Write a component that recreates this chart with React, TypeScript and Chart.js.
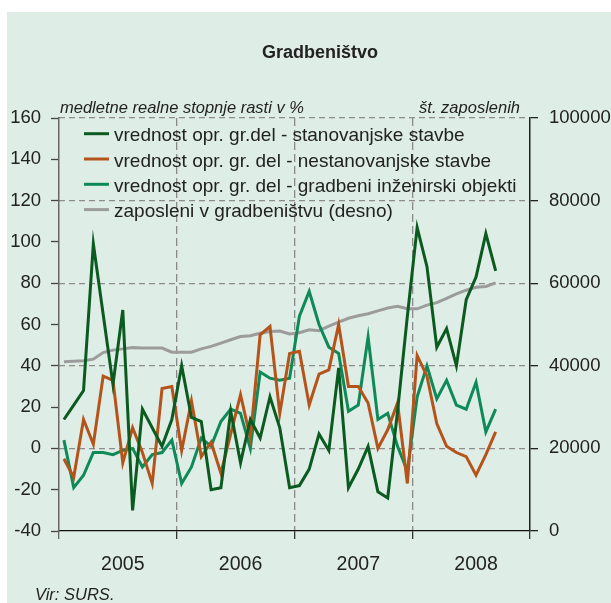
import React, { useEffect, useRef } from 'react';
import { Chart, registerables } from 'chart.js';

Chart.register(...registerables);

// ---- data (monthly, Jan 2005 – Sep 2008) ----
const years = ['2005', '2006', '2007', '2008'];

const residential = [
  14, 21, 28, 99, 65, 31, 67, -30, 19, 10, 1, 14,
  40, 15, 13, -20, -19, 18, -7, 14, 5, 25, 10, -19,
  -18, -10, 7, -1, 39, -19, -10, 1, -21, -24, 18, 64,
  107, 88, 49, 58, 40, 72, 83, 104, 86,
];

const nonResidential = [
  -5, -14, 14, 2, 35, 33, -7, 10, -2, -17, 29, 30,
  -1, 23, -4, 3, -12, 7, 26, 5, 55, 59, 17, 46,
  47, 21, 36, 38, 60, 30, 30, 22, 0, 9, 22, -17,
  45, 35, 12, 1, -2, -4, -13, -3, 8,
];

const civilEng = [
  4, -19, -13, -2, -2, -3, -1, 0, -9, -3, -2, 4,
  -17, -9, 5, 1, 13, 19, 17, 0, 37, 34, 33, 34,
  64, 76, 60, 49, 46, 18, 21, 54, 14, 17, 1, -11,
  25, 40, 24, 33, 21, 19, 32, 8, 19,
];

const employment = [
  41000, 41100, 41200, 41600, 43200, 43800, 44100, 44400, 44300, 44300, 44300, 43300,
  43300, 43300, 44100, 44700, 45500, 46300, 47100, 47300, 47900, 48300, 48400, 47700,
  48000, 48700, 48500, 49600, 50600, 51500, 52100, 52600, 53300, 54000, 54400, 53800,
  53800, 54700, 55300, 56300, 57400, 58300, 59000, 59200, 60100,
];

const seriesLabels = [
  'vrednost opr. gr.del - stanovanjske stavbe',
  'vrednost opr. gr. del - nestanovanjske stavbe',
  'vrednost opr. gr. del - gradbeni inženirski objekti',
  'zaposleni v gradbeništvu (desno)',
];
const seriesColors = ['#0b5a1f', '#b5541a', '#0e8a58', '#9c9c9c'];

const titleText = 'Gradbeništvo';
const leftAxisTitle = 'medletne realne stopnje rasti v %';
const rightAxisTitle = 'št. zaposlenih';
const sourceText = 'Vir: SURS.';

const SANS = "'Liberation Sans', Arial, sans-serif";

const toPoints = (arr: number[]) => arr.map((v, i) => ({ x: i + 0.5, y: v }));

const bgPlugin = {
  id: 'bg',
  beforeDraw(chart: any) {
    const ctx = chart.ctx;
    ctx.save();
    ctx.fillStyle = '#ffffff';
    ctx.fillRect(0, 0, chart.width, chart.height);
    ctx.fillStyle = '#deede6';
    ctx.fillRect(7, 12, chart.width - 7, chart.height - 12);
    ctx.restore();
  },
};

const decorPlugin = {
  id: 'decor',
  afterDraw(chart: any) {
    const ctx = chart.ctx;
    const area = chart.chartArea;
    ctx.save();
    // title
    ctx.fillStyle = '#222';
    ctx.font = `bold 18px ${SANS}`;
    ctx.textAlign = 'center';
    ctx.textBaseline = 'alphabetic';
    ctx.fillText(titleText, 320, 57.5);
    // axis titles
    ctx.font = `italic 16.5px ${SANS}`;
    ctx.textAlign = 'left';
    ctx.fillText(leftAxisTitle, area.left + 1, 112.5);
    ctx.textAlign = 'right';
    ctx.fillText(rightAxisTitle, area.right - 10, 112.5);
    // source
    ctx.textAlign = 'left';
    ctx.fillText(sourceText, 35, 600);
    // legend
    ctx.font = `19px ${SANS}`;
    for (let i = 0; i < seriesLabels.length; i++) {
      const y = 133.7 + i * 25.3;
      ctx.strokeStyle = seriesColors[i];
      ctx.lineWidth = 3;
      ctx.beginPath();
      ctx.moveTo(84, y);
      ctx.lineTo(109, y);
      ctx.stroke();
      ctx.fillStyle = '#222';
      ctx.textAlign = 'left';
      ctx.fillText(seriesLabels[i], 114, y + 7.6);
    }
    ctx.restore();
  },
};

export default function App() {
  const ref = useRef<HTMLCanvasElement>(null);

  useEffect(() => {
    const canvas = ref.current;
    if (!canvas) return;
    const tickFont = { family: SANS, size: 18.5 };
    const chart = new Chart(canvas, {
      type: 'line',
      data: {
        datasets: [
          { label: seriesLabels[0], data: toPoints(residential), borderColor: seriesColors[0], yAxisID: 'y' },
          { label: seriesLabels[1], data: toPoints(nonResidential), borderColor: seriesColors[1], yAxisID: 'y' },
          { label: seriesLabels[2], data: toPoints(civilEng), borderColor: seriesColors[2], yAxisID: 'y' },
          { label: seriesLabels[3], data: toPoints(employment), borderColor: seriesColors[3], yAxisID: 'y2' },
        ],
      },
      options: {
        animation: false,
        responsive: false,
        devicePixelRatio: 1,
        layout: { padding: { top: 118, left: 0, right: 0, bottom: 0 } },
        elements: {
          point: { radius: 0, hoverRadius: 0 },
          line: { tension: 0, borderWidth: 3, fill: false },
        },
        plugins: {
          legend: { display: false },
          tooltip: { enabled: false },
          title: { display: false },
        },
        scales: {
          x: {
            type: 'linear',
            position: 'bottom',
            min: 0,
            max: 48,
            afterBuildTicks: (scale: any) => {
              const vals: number[] = [];
              for (let y = 0; y <= years.length; y++) {
                vals.push(y * 12);
                if (y < years.length) vals.push(y * 12 + 6.5);
              }
              scale.ticks = vals.map((v) => ({ value: v }));
            },
            afterFit: (scale: any) => {
              scale.height = 72;
            },
            ticks: {
              autoSkip: false,
              maxRotation: 0,
              minRotation: 0,
              padding: 14,
              color: '#222',
              font: { family: SANS, size: 19.5 },
              callback: (value: any) => {
                const v = Number(value);
                const k = (v - 6.5) / 12;
                return Number.isInteger(k) ? years[k] : '';
              },
            },
            grid: {
              drawOnChartArea: true,
              lineWidth: 1.3,
              color: (c: any) => {
                const v = c.tick ? c.tick.value : 0;
                return v % 12 === 0 && v > 0 && v < 48 ? '#8a8a8a' : 'rgba(0,0,0,0)';
              },
              tickLength: 8,
              tickWidth: 1.3,
              tickColor: (c: any) => {
                const v = c.tick ? c.tick.value : 0;
                if (v % 12 !== 0) return 'rgba(0,0,0,0)';
                return v === 0 ? '#666' : '#333';
              },
            },
            border: { display: true, color: '#111', width: 1.3, dash: [8, 4] },
          },
          y: {
            position: 'left',
            min: -40,
            max: 160,
            afterFit: (scale: any) => {
              scale.width = 59;
            },
            ticks: {
              stepSize: 20,
              padding: 10,
              color: '#222',
              font: tickFont,
              callback: (v: any) => String(v),
            },
            grid: {
              drawOnChartArea: false,
              tickLength: 8,
              tickWidth: 1.3,
              tickColor: '#444',
            },
            border: { display: true, color: '#666', width: 1.5 },
          },
          y2: {
            position: 'right',
            min: 0,
            max: 100000,
            afterFit: (scale: any) => {
              scale.width = 81;
            },
            ticks: {
              stepSize: 20000,
              padding: 11,
              color: '#222',
              font: tickFont,
              callback: (v: any) => String(v),
            },
            grid: {
              drawOnChartArea: true,
              lineWidth: 1.3,
              color: (c: any) => (c.tick && c.tick.value === 0 ? 'rgba(0,0,0,0)' : '#8c8c8c'),
              tickLength: 8,
              tickWidth: 1.3,
              tickColor: '#222',
            },
            border: { display: true, color: '#222', width: 1.5, dash: [6, 4] },
          },
        },
      },
      plugins: [bgPlugin, decorPlugin],
    } as any);
    return () => chart.destroy();
  }, []);

  return (
    <div style={{ position: 'absolute', left: 0, top: 0, width: 611, height: 603 }}>
      <canvas ref={ref} width={611} height={603} style={{ display: 'block', width: 611, height: 603 }} />
    </div>
  );
}
